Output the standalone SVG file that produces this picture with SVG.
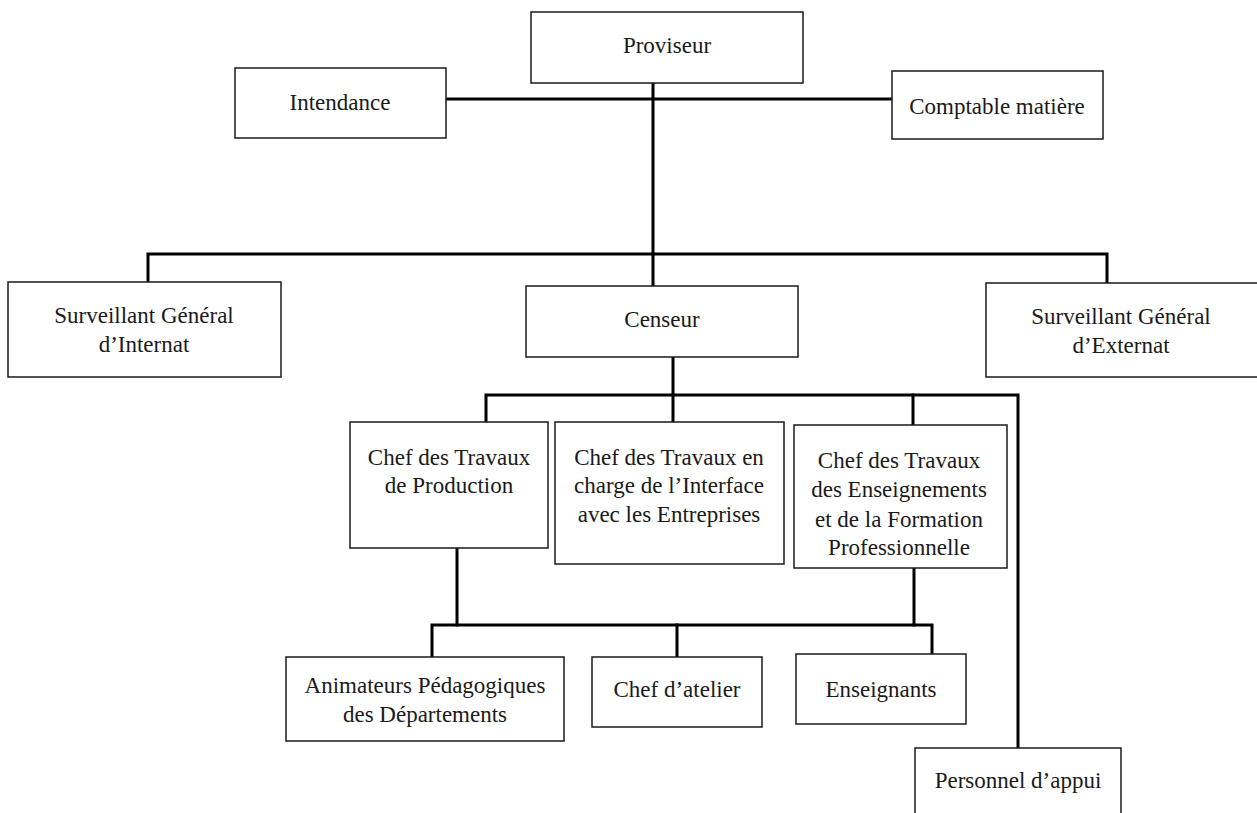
<svg xmlns="http://www.w3.org/2000/svg" width="1257" height="813" viewBox="0 0 1257 813">
<style>
.box{fill:#fff;stroke:#1a1a1a;stroke-width:1.5}
.t{font-family:"Liberation Serif","Times New Roman",serif;font-size:23px;fill:#1a1a1a;text-anchor:middle}
.c{fill:none;stroke:#000;stroke-width:3;stroke-linecap:square;stroke-linejoin:miter}
</style>
<rect width="1257" height="813" fill="#fff"/>
<g id="connectors">
<path class="c" d="M446,99 H892"/>
<path class="c" d="M653,83 V254"/>
<path class="c" d="M148,282 V254 H1107 V283"/>
<path class="c" d="M653,254 V286"/>
<path class="c" d="M673,343 V395"/>
<path class="c" d="M486,422 V395 H1018 V748"/>
<path class="c" d="M673,395 V422"/>
<path class="c" d="M913,395 V425"/>
<path class="c" d="M457,548 V625"/>
<path class="c" d="M914,568 V625"/>
<path class="c" d="M432,657 V625 H932 V654"/>
<path class="c" d="M677,625 V657"/>
</g>
<g id="proviseur"><rect class="box" x="531" y="12" width="272" height="71"/><text class="t" x="667" y="53">Proviseur</text></g>
<g id="intendance"><rect class="box" x="235" y="68" width="211" height="70"/><text class="t" x="340" y="110">Intendance</text></g>
<g id="comptable"><rect class="box" x="892" y="71" width="211" height="68"/><text class="t" x="997" y="114">Comptable matière</text></g>
<g id="sg-internat"><rect class="box" x="8" y="282" width="273" height="95"/><text class="t" x="144" y="323">Surveillant Général</text><text class="t" x="144" y="352">d’Internat</text></g>
<g id="censeur"><rect class="box" x="526" y="286" width="272" height="71"/><text class="t" x="662" y="327">Censeur</text></g>
<g id="sg-externat"><rect class="box" x="986" y="283" width="280" height="94"/><text class="t" x="1121" y="324">Surveillant Général</text><text class="t" x="1121" y="353">d’Externat</text></g>
<g id="chef-production"><rect class="box" x="350" y="422" width="198" height="126"/><text class="t" x="449" y="465">Chef des Travaux</text><text class="t" x="449" y="493">de Production</text></g>
<g id="chef-interface"><rect class="box" x="555" y="422" width="229" height="142"/><text class="t" x="669" y="465">Chef des Travaux en</text><text class="t" x="669" y="493">charge de l’Interface</text><text class="t" x="669" y="522">avec les Entreprises</text></g>
<g id="chef-enseignements"><rect class="box" x="794" y="425" width="213" height="143"/><text class="t" x="899" y="468">Chef des Travaux</text><text class="t" x="899" y="497">des Enseignements</text><text class="t" x="899" y="527">et de la Formation</text><text class="t" x="899" y="555">Professionnelle</text></g>
<g id="animateurs"><rect class="box" x="286" y="657" width="278" height="84"/><text class="t" x="425" y="693">Animateurs Pédagogiques</text><text class="t" x="425" y="722">des Départements</text></g>
<g id="chef-atelier"><rect class="box" x="592" y="657" width="170" height="70"/><text class="t" x="677" y="697">Chef d’atelier</text></g>
<g id="enseignants"><rect class="box" x="796" y="654" width="170" height="70"/><text class="t" x="881" y="697">Enseignants</text></g>
<g id="personnel-appui"><rect class="box" x="915" y="748" width="206" height="80"/><text class="t" x="1018" y="788">Personnel d’appui</text></g>
</svg>
